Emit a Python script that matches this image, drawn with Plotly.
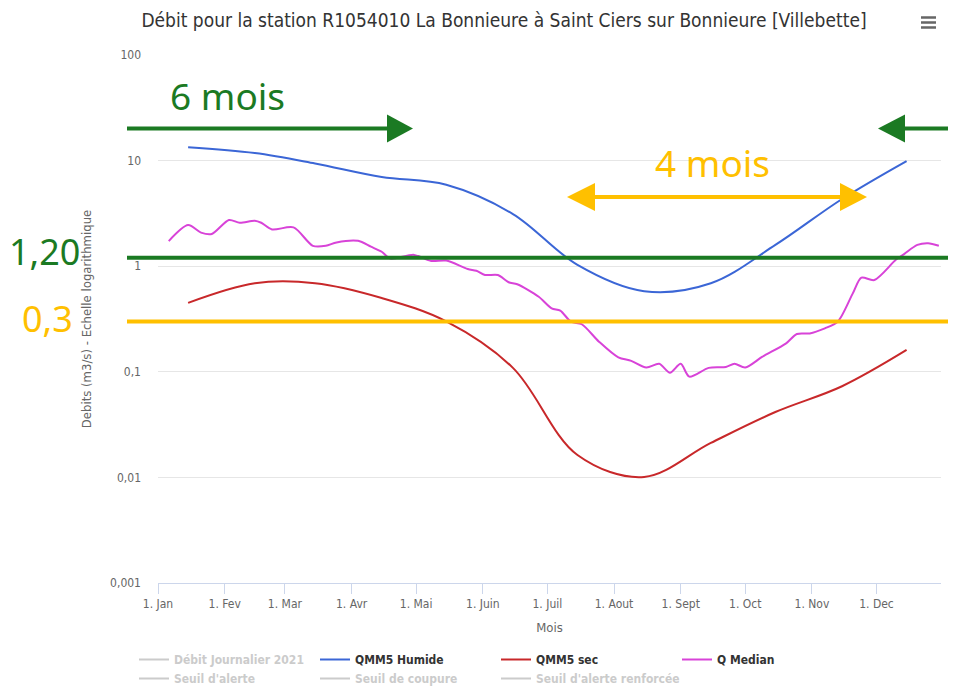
import math
import plotly.graph_objects as go

# ---------------- data ----------------
month_starts = ['2021-01-01', '2021-02-01', '2021-03-01', '2021-04-01', '2021-05-01', '2021-06-01',
                '2021-07-01', '2021-08-01', '2021-09-01', '2021-10-01', '2021-11-01', '2021-12-01']
month_labels = ['1. Jan', '1. Fev', '1. Mar', '1. Avr', '1. Mai', '1. Juin',
                '1. Juil', '1. Aout', '1. Sept', '1. Oct', '1. Nov', '1. Dec']

month_mid = ['2021-01-15', '2021-02-15', '2021-03-15', '2021-04-15', '2021-05-15', '2021-06-15',
             '2021-07-15', '2021-08-15', '2021-09-15', '2021-10-15', '2021-11-15', '2021-12-15']
qmm5_humide = [13.4, 11.8, 9.4, 7.0, 5.9, 3.12, 1.03, 0.58, 0.69, 1.59, 4.33, 9.9]
qmm5_sec = [0.45, 0.69, 0.69, 0.50, 0.30, 0.109, 0.0163, 0.0101, 0.0212, 0.0416, 0.073, 0.161]

qmed_dates = ['2021-01-06', '2021-01-15', '2021-01-21', '2021-01-26', '2021-02-03', '2021-02-08',
              '2021-02-15', '2021-02-18', '2021-02-23', '2021-03-05', '2021-03-14', '2021-03-20',
              '2021-03-25', '2021-04-04', '2021-04-10', '2021-04-15', '2021-04-19', '2021-04-30',
              '2021-05-08', '2021-05-15', '2021-05-25', '2021-05-29', '2021-06-02', '2021-06-08',
              '2021-06-13', '2021-06-17', '2021-06-27', '2021-07-03', '2021-07-07', '2021-07-12',
              '2021-07-17', '2021-07-25', '2021-08-03', '2021-08-09', '2021-08-16', '2021-08-22',
              '2021-08-27', '2021-09-01', '2021-09-05', '2021-09-14', '2021-09-22', '2021-09-26',
              '2021-10-01', '2021-10-09', '2021-10-20', '2021-10-25', '2021-10-31', '2021-11-07',
              '2021-11-13', '2021-11-20', '2021-11-24', '2021-11-30', '2021-12-10', '2021-12-14',
              '2021-12-20', '2021-12-25', '2021-12-30']
qmed_values = [1.73, 2.45, 2.08, 2.02, 2.74, 2.58,
               2.70, 2.58, 2.23, 2.33, 1.56, 1.56,
               1.68, 1.74, 1.53, 1.37, 1.18, 1.28,
               1.12, 1.13, 0.94, 0.906, 0.826, 0.826,
               0.705, 0.675, 0.514, 0.399, 0.379, 0.298,
               0.282, 0.193, 0.137, 0.127, 0.110, 0.119,
               0.098, 0.119, 0.090, 0.109, 0.111, 0.119,
               0.110, 0.139, 0.186, 0.228, 0.231, 0.258,
               0.298, 0.553, 0.778, 0.740, 1.15, 1.31,
               1.59, 1.65, 1.56]

# series hidden in the legend (no values shown on the chart)
hidden_names = ['Débit Journalier 2021', "Seuil d'alerte", 'Seuil de coupure', "Seuil d'alerte renforcée"]
hidden_x = [month_starts[0]]
hidden_y = [None]

y_tickvals = [0.001, 0.01, 0.1, 1, 10, 100]
y_ticktext = ['0,001', '0,01', '0,1', '1', '10', '100']

seuil_values = [1.2, 0.3]
seuil_labels = ['1,20', '0,3']

# ---------------- layout helpers (page pixel -> paper) ----------------
OFF = 8                      # default body margin of the html page
W, H = 956 - OFF, 689 - OFF
L, R, T, B = 158, 941, 55, 583   # plot area in page pixels
YMIN, YMAX = -3, 2


def px(x):
    return (x - L) / (R - L)


def py(y):
    return (B - y) / (B - T)


def pv(v):
    return (math.log10(v) - YMIN) / (YMAX - YMIN)


GREEN = '#1b7a23'
ORANGE = '#ffc000'
FONT = 'Liberation Sans Narrow, DejaVu Sans Condensed, Arial Narrow, sans-serif'
BIG = 'Noto Sans, Lato, sans-serif'

fig = go.Figure()

hidden_style = '<span style="color:#999999">{}</span>'


def add_hidden(name):
    fig.add_trace(go.Scatter(x=hidden_x, y=hidden_y, mode='lines', name=hidden_style.format(name),
                             visible='legendonly', line=dict(color='#999999', width=2)))


add_hidden(hidden_names[0])
fig.add_trace(go.Scatter(x=month_mid, y=qmm5_humide, mode='lines', name='QMM5 Humide',
                         line=dict(color='#3b66d6', width=2, shape='spline', smoothing=1.0)))
fig.add_trace(go.Scatter(x=month_mid, y=qmm5_sec, mode='lines', name='QMM5 sec',
                         line=dict(color='#c8282a', width=2, shape='spline', smoothing=1.0)))
fig.add_trace(go.Scatter(x=qmed_dates, y=qmed_values, mode='lines', name='Q Median',
                         line=dict(color='#d843d8', width=2, shape='spline', smoothing=0.8)))
for nm in hidden_names[1:]:
    add_hidden(nm)

shapes = []
# threshold lines (hand drawn overlays)
for v, col in zip(seuil_values, [GREEN, ORANGE]):
    shapes.append(dict(type='line', xref='paper', yref='paper', x0=px(127), x1=px(960),
                       y0=pv(v), y1=pv(v), line=dict(color=col, width=4)))


def arrow_head(tip_x, base_x, y, half, col):
    path = 'M {} {} L {} {} L {} {} Z'.format(px(tip_x), py(y), px(base_x), py(y - half),
                                             px(base_x), py(y + half))
    return dict(type='path', xref='paper', yref='paper', path=path, fillcolor=col,
                line=dict(color=col, width=0))


# green arrow left (6 mois)
shapes.append(dict(type='line', xref='paper', yref='paper', x0=px(127), x1=px(392),
                   y0=py(128.5), y1=py(128.5), line=dict(color=GREEN, width=4)))
shapes.append(arrow_head(413, 387, 128.5, 14, GREEN))
# green arrow right
shapes.append(dict(type='line', xref='paper', yref='paper', x0=px(900), x1=px(960),
                   y0=py(128.5), y1=py(128.5), line=dict(color=GREEN, width=4)))
shapes.append(arrow_head(878, 905, 128.5, 14, GREEN))
# orange double arrow (4 mois)
shapes.append(dict(type='line', xref='paper', yref='paper', x0=px(590), x1=px(845),
                   y0=py(197), y1=py(197), line=dict(color=ORANGE, width=4)))
shapes.append(arrow_head(567, 595, 197, 14, ORANGE))
shapes.append(arrow_head(867, 840, 197, 14, ORANGE))
# hamburger menu icon
for yy in [17.5, 22.5, 27.5]:
    shapes.append(dict(type='line', xref='paper', yref='paper', x0=px(921), x1=px(936),
                       y0=py(yy), y1=py(yy), line=dict(color='#666666', width=2.5)))

annotations = [
    dict(text='6 mois', x=px(227), y=py(95), xref='paper', yref='paper', showarrow=False,
         font=dict(family=BIG, size=37, color=GREEN), xanchor='center', yanchor='middle'),
    dict(text='4 mois', x=px(712), y=py(162), xref='paper', yref='paper', showarrow=False,
         font=dict(family=BIG, size=37, color=ORANGE), xanchor='center', yanchor='middle'),
    dict(text=seuil_labels[0], x=px(44), y=py(252), xref='paper', yref='paper',
         showarrow=False, font=dict(family=BIG, size=36, color=GREEN), xanchor='center', yanchor='middle'),
    dict(text=seuil_labels[1], x=px(47), y=py(318), xref='paper', yref='paper',
         showarrow=False, font=dict(family=BIG, size=36, color=ORANGE), xanchor='center', yanchor='middle'),
]

fig.update_layout(
    width=W, height=H,
    margin=dict(l=L - OFF, r=W - (R - OFF), t=T - OFF, b=H - (B - OFF)),
    paper_bgcolor='white', plot_bgcolor='white',
    font=dict(family=FONT, size=12, color='#333333'),
    title=dict(text='Débit pour la station R1054010 La Bonnieure à Saint Ciers sur Bonnieure [Villebette]',
               x=(504 - OFF) / W, xref='container', xanchor='center',
               y=1 - (20 - OFF) / H, yref='container', yanchor='middle',
               font=dict(family=FONT, size=19, color='#333333')),
    xaxis=dict(type='date', range=['2021-01-01', '2021-12-31'],
               tickvals=month_starts, ticktext=month_labels,
               ticks='outside', ticklen=10, tickcolor='#ccd6eb', tickwidth=1,
               showline=True, linecolor='#ccd6eb', linewidth=1,
               showgrid=False, zeroline=False, ticklabelstandoff=0,
               tickfont=dict(family=FONT, size=12, color='#666666'),
               title=dict(text='Mois', font=dict(family=FONT, size=13, color='#666666'), standoff=12)),
    yaxis=dict(type='log', range=[YMIN, YMAX],
               tickvals=y_tickvals, ticktext=y_ticktext,
               showgrid=True, gridcolor='#e6e6e6', gridwidth=1,
               showline=False, zeroline=False, ticks='',
               ticklabelstandoff=16,
               tickfont=dict(family=FONT, size=12, color='#666666'),
               title=dict(text='Debits (m3/s) - Echelle logarithmique',
                          font=dict(family=FONT, size=13, color='#666666'), standoff=15)),
    legend=dict(orientation='h', xref='container', yref='container',
                x=(134 - OFF) / W, y=1 - (645 - OFF) / H, xanchor='left', yanchor='top',
                entrywidth=136, entrywidthmode='pixels', itemwidth=30,
                font=dict(family=FONT, size=12, color='#333333', weight='bold'),
                bgcolor='rgba(0,0,0,0)', traceorder='normal'),
    shapes=shapes,
    annotations=annotations,
    showlegend=True,
)

fig.write_html('out.html')
